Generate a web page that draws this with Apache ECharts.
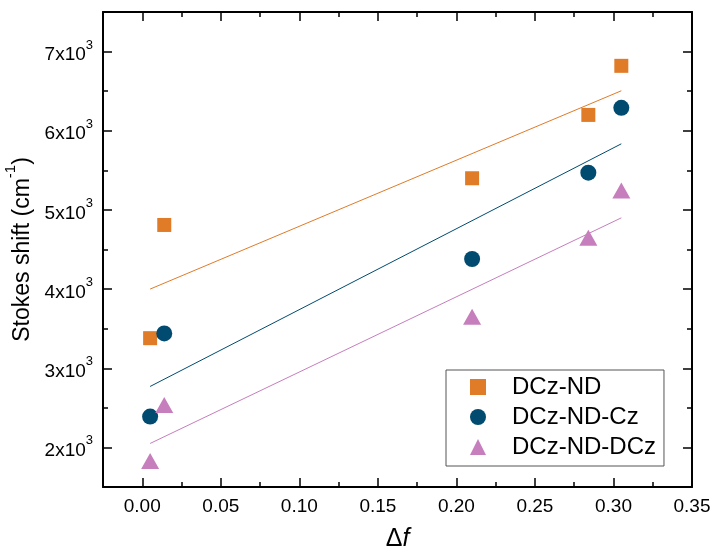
<!DOCTYPE html>
<html>
<head>
<meta charset="utf-8">
<script src="https://cdn.jsdelivr.net/npm/echarts@6/dist/echarts.min.js"></script>
<style>
    html, body { margin: 0; padding: 0; background: #fff; }
    #stokesChart { width: 716px; height: 556px; }
</style>
</head>
<body>
<div id="stokesChart"></div>
<script>
// measured points (delta f vs Stokes shift, cm-1)
var deltaF = [0.005, 0.014, 0.21, 0.284, 0.305];
var dczNd = [3380, 4810, 5400, 6200, 6820];
var dczNdCz = [2390, 3440, 4380, 5470, 6290];
var dczNdDcz = [1830, 2535, 3650, 4650, 5245];

// linear fit end points
var fitX = [0.005, 0.305];
var fitNd = [4000, 6505];
var fitCz = [2770, 5835];
var fitDcz = [2050, 4900];

var seriesNames = ['DCz-ND', 'DCz-ND-Cz', 'DCz-ND-DCz'];

// tick positions
var xMajor = [0, 0.05, 0.1, 0.15, 0.2, 0.25, 0.3, 0.35];
var xMinor = [0.025, 0.075, 0.125, 0.175, 0.225, 0.275, 0.325];
var yMajor = [2000, 3000, 4000, 5000, 6000, 7000];
var yMinor = [1500, 2500, 3500, 4500, 5500, 6500, 7500];

var vm = {
    chartDom : null,
    font : '"Liberation Sans", Arial, sans-serif',
    colors : ['#E07B28', '#004B6F', '#C67EBD']
};

function pairs(xs, ys) {
    var out = [];
    for (var i = 0; i < xs.length; i++) {
        out.push([xs[i], ys[i]]);
    }
    return out;
}

function makeXAxis(pos, ticks, len, withLabel) {
    var axis = {
        type: 'value',
        position: pos,
        min: -0.025,
        max: 0.35,
        splitLine: {show: false},
        axisLine: {show: len > 6, onZero: false, lineStyle: {color: '#000', width: 2}},
        axisTick: {show: true, inside: true, length: len, customValues: ticks,
            lineStyle: {color: '#000', width: 1.5}},
        axisLabel: {show: false}
    };
    if (withLabel) {
        axis.axisLabel = {
            show: true,
            customValues: ticks,
            margin: 10,
            color: '#000',
            fontSize: 19,
            fontFamily: vm.font,
            formatter: function (v) { return v.toFixed(2); }
        };
        axis.name = '\u0394{i|f}';
        axis.nameLocation = 'middle';
        axis.nameGap = 40;
        axis.nameTextStyle = {
            color: '#000', fontSize: 25, fontFamily: vm.font,
            rich: {i: {fontSize: 25, fontStyle: 'italic', fontFamily: vm.font, color: '#000'}}
        };
    }
    return axis;
}

function makeYAxis(pos, ticks, len, withLabel) {
    var axis = {
        type: 'value',
        position: pos,
        min: 1500,
        max: 7500,
        splitLine: {show: false},
        axisLine: {show: len > 6, onZero: false, lineStyle: {color: '#000', width: 2}},
        axisTick: {show: true, inside: true, length: len, customValues: ticks,
            lineStyle: {color: '#000', width: 1.5}},
        axisLabel: {show: false}
    };
    if (withLabel) {
        axis.axisLabel = {
            show: true,
            customValues: ticks,
            margin: 10,
            color: '#000',
            fontSize: 19,
            fontFamily: vm.font,
            formatter: function (v) { return '{m|' + (v / 1000) + 'x10}{sup|3}'; },
            rich: {
                m: {fontSize: 19, lineHeight: 26, verticalAlign: 'bottom', color: '#000', fontFamily: vm.font},
                sup: {fontSize: 13, lineHeight: 17, verticalAlign: 'top', color: '#000', fontFamily: vm.font}
            }
        };
        axis.name = '{m|Stokes shift (cm}{sup|-1}{m|)}';
        axis.nameLocation = 'middle';
        axis.nameGap = 64;
        axis.nameTextStyle = {
            color: '#000', fontSize: 23, fontFamily: vm.font,
            rich: {
                m: {fontSize: 23, lineHeight: 30, verticalAlign: 'bottom', color: '#000', fontFamily: vm.font},
                sup: {fontSize: 15, lineHeight: 22, verticalAlign: 'top', color: '#000', fontFamily: vm.font}
            }
        };
    }
    return axis;
}

var getScatterOption = function () {
    var points = [dczNd, dczNdCz, dczNdDcz];
    var fits = [fitNd, fitCz, fitDcz];
    var symbols = ['rect', 'circle', 'triangle'];
    var sizes = [14, 16, [18, 16]];
    var series = [];
    for (var i = 0; i < points.length; i++) {
        series.push({
            name: seriesNames[i] + ' fit',
            type: 'line',
            data: pairs(fitX, fits[i]),
            showSymbol: false,
            symbol: 'none',
            silent: true,
            z: 1,
            lineStyle: {width: 1, color: vm.colors[i]}
        });
    }
    for (var j = 0; j < points.length; j++) {
        series.push({
            name: seriesNames[j],
            type: 'scatter',
            data: pairs(deltaF, points[j]),
            symbol: symbols[j],
            symbolSize: sizes[j],
            z: 3,
            itemStyle: {color: vm.colors[j], opacity: 1}
        });
    }

    return {
        backgroundColor: '#fff',
        animation: false,
        grid: {left: 103, top: 12, right: 24, bottom: 69, outerBoundsMode: 'none'},
        legend: {
            data: seriesNames,
            orient: 'vertical',
            left: 446,
            top: 370,
            padding: [2, 8, 4, 24],
            itemGap: 0,
            itemWidth: 16,
            itemHeight: 16,
            backgroundColor: '#fff',
            borderColor: '#555',
            borderWidth: 1,
            textStyle: {color: '#000', fontSize: 24, lineHeight: 30, fontFamily: vm.font, padding: [0, 0, 0, 21]}
        },
        xAxis: [
            makeXAxis('bottom', xMajor, 9, true),
            makeXAxis('bottom', xMinor, 5, false),
            makeXAxis('top', xMajor, 9, false),
            makeXAxis('top', xMinor, 5, false)
        ],
        yAxis: [
            makeYAxis('left', yMajor, 9, true),
            makeYAxis('left', yMinor, 5, false),
            makeYAxis('right', yMajor, 9, false),
            makeYAxis('right', yMinor, 5, false)
        ],
        series: series
    };
};

vm.chartDom = echarts.init(document.getElementById('stokesChart'));
vm.chartDom.setOption(getScatterOption());
</script>
</body>
</html>
